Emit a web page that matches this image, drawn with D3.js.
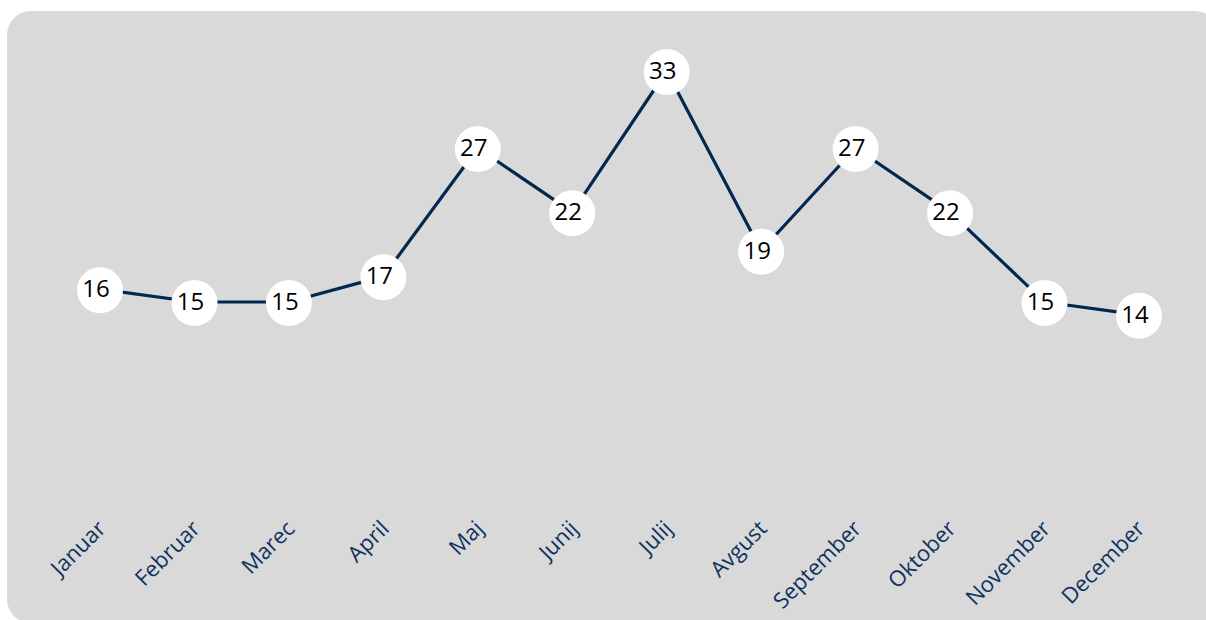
<!DOCTYPE html>
<html>
<head>
<meta charset="utf-8">
<script src="https://cdn.jsdelivr.net/npm/d3@7"></script>
<style>
  html, body { margin: 0; padding: 0; background: #ffffff; }
  svg { display: block; }
</style>
</head>
<body>
<svg id="chart" width="1206" height="620"></svg>
<script>
const months = ["Januar", "Februar", "Marec", "April", "Maj", "Junij", "Julij", "Avgust", "September", "Oktober", "November", "December"];
const values = [16, 15, 15, 17, 27, 22, 33, 19, 27, 22, 15, 14];

const svg = d3.select("#chart");

svg.append("rect")
  .attr("x", 7).attr("y", 11)
  .attr("width", 1212).attr("height", 612)
  .attr("rx", 24).attr("ry", 24)
  .attr("fill", "#d9d9d9");

const x = d3.scalePoint().domain(months).range([100, 1139]);
const y = d3.scaleLinear().domain([0, 33]).range([494.5, 71]);

const data = months.map((m, i) => ({ m, v: values[i] }));

svg.append("path")
  .datum(data)
  .attr("fill", "none")
  .attr("stroke", "#002850")
  .attr("stroke-width", 3.2)
  .attr("stroke-linejoin", "round")
  .attr("d", d3.line().x(d => x(d.m)).y(d => y(d.v)));

const g = svg.append("g");
g.selectAll("circle").data(data).join("circle")
  .attr("cx", d => x(d.m))
  .attr("cy", d => y(d.v) + 1)
  .attr("r", 23)
  .attr("fill", "#ffffff");

g.selectAll("text").data(data).join("text")
  .attr("x", d => x(d.m) - 4)
  .attr("y", d => y(d.v) + 8)
  .attr("text-anchor", "middle")
  .attr("font-family", "'Open Sans', sans-serif")
  .attr("font-size", 24)
  .attr("fill", "#000000")
  .text(d => d.v);

const xAxis = svg.append("g");
xAxis.selectAll("text").data(months).join("text")
  .attr("transform", d => `translate(${x(d) + 7},530) rotate(-45)`)
  .attr("text-anchor", "end")
  .attr("font-family", "'Open Sans', sans-serif")
  .attr("font-size", 22)
  .attr("fill", "#0f3360")
  .text(d => d);
</script>
</body>
</html>
